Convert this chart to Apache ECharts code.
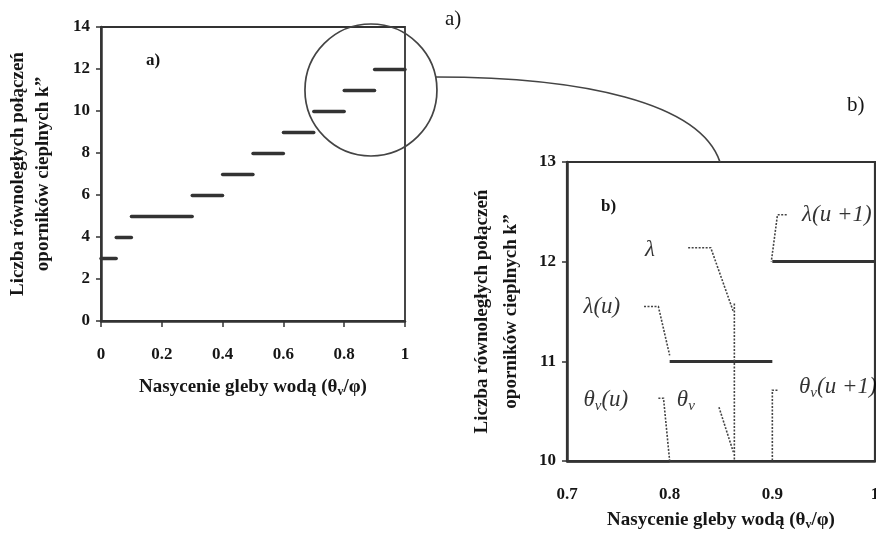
<!DOCTYPE html>
<html><head><meta charset="utf-8">
<script src="https://cdn.jsdelivr.net/npm/echarts@6/dist/echarts.min.js"></script>
<style>html,body{margin:0;padding:0;background:#fff}#c{width:876px;height:545px}</style>
</head><body><div id="c"></div>
<script>
// ---- data ----
const stepStart = [0, 0.05, 0.10, 0.30, 0.40, 0.50, 0.60, 0.70, 0.80, 0.90];
const stepEnd   = [0.05, 0.10, 0.30, 0.40, 0.50, 0.60, 0.70, 0.80, 0.90, 1.00];
const stepK     = [3, 4, 5, 6, 7, 8, 9, 10, 11, 12];
const axisA = {xMin: 0, xMax: 1, xStep: 0.2, yMin: 0, yMax: 14, yStep: 2};
const axisB = {xMin: 0.7, xMax: 1, xStep: 0.1, yMin: 10, yMax: 13, yStep: 1};
// leader lines in panel b (data coordinates)
const leaders = [
  [[0.914, 12.47], [0.905, 12.47], [0.899, 12.0]],
  [[0.818, 12.14], [0.840, 12.14], [0.862, 11.5]],
  [[0.863, 11.58], [0.863, 10.0]],
  [[0.775, 11.55], [0.789, 11.55], [0.800, 11.06]],
  [[0.789, 10.63], [0.794, 10.63], [0.800, 10.0]],
  [[0.848, 10.54], [0.862, 10.09]],
  [[0.905, 10.71], [0.900, 10.71], [0.900, 10.0]]
];
const noteX = [0.929, 0.776, 0.716, 0.716, 0.807, 0.926];
const noteY = [12.47, 12.12, 11.55, 10.61, 10.61, 10.74];
const noteText = ['{i|λ(u +1)}', '{i|λ}', '{i|λ(u)}', '{i|θ}{s|v}{i|(u)}', '{i|θ}{s|v}', '{i|θ}{s|v}{i|(u +1)}'];
const zoomCenter = [0.888, 11.0];

const FONT = 'Liberation Serif';
const INK = '#333';
const TXT = '#161616';

const chart = echarts.init(document.getElementById('c'), null, {renderer: 'canvas'});

function stepLines(){
  return stepK.map((k, i) => ({coords: [[stepStart[i], k], [stepEnd[i], k]]}));
}
const titleRich = {
  n: {fontFamily: FONT, fontWeight: 'bold', fontSize: 19, color: TXT},
  s: {fontFamily: FONT, fontWeight: 'bold', fontSize: 12, color: TXT, padding: [9, 0, 0, 0]}
};
const xName = '{n|Nasycenie gleby wodą (θ}{s|v}{n|/φ)}';
const yName = 'Liczba równoległych połączeń\noporników cieplnych k”';

function xAxisCfg(idx, a, gap, showTick){
  return {
    type: 'value', gridIndex: idx, min: a.xMin, max: a.xMax, interval: a.xStep,
    splitLine: {show: false},
    axisLine: {lineStyle: {color: INK, width: 2.5}},
    axisTick: {show: showTick, length: 6, lineStyle: {color: INK, width: 1.5}},
    axisLabel: {margin: 25, fontFamily: FONT, fontWeight: 'bold', fontSize: 17, color: TXT,
      formatter: v => String(Math.round(v * 10) / 10)},
    name: xName, nameLocation: 'middle', nameGap: gap,
    nameTextStyle: {rich: titleRich}
  };
}
function yAxisCfg(idx, a, gap, lh){
  return {
    type: 'value', gridIndex: idx, min: a.yMin, max: a.yMax, interval: a.yStep,
    splitLine: {show: false},
    axisLine: {lineStyle: {color: INK, width: 2.5}},
    axisTick: {length: 5, lineStyle: {color: INK, width: 1.5}},
    axisLabel: {margin: 11, fontFamily: FONT, fontWeight: 'bold', fontSize: 17, color: TXT},
    name: yName, nameLocation: 'middle', nameGap: gap,
    nameTextStyle: {fontFamily: FONT, fontWeight: 'bold', fontSize: 19, color: TXT, lineHeight: lh}
  };
}

const option = {
  backgroundColor: '#fff',
  animation: false,
  grid: [
    {left: 101, top: 27, width: 304, height: 294, show: true, borderColor: INK, borderWidth: 1.8,
     containLabel: false, outerBoundsMode: 'none'},
    {left: 567, top: 162, width: 308, height: 299, show: true, borderColor: INK, borderWidth: 2.2,
     containLabel: false, outerBoundsMode: 'none'}
  ],
  xAxis: [xAxisCfg(0, axisA, 56, true), xAxisCfg(1, axisB, 49, false)],
  yAxis: [yAxisCfg(0, axisA, 45, 25), yAxisCfg(1, axisB, 41, 29)],
  series: [
    {type: 'lines', coordinateSystem: 'cartesian2d', xAxisIndex: 0, yAxisIndex: 0, polyline: false,
     lineStyle: {color: '#333', width: 3.4, opacity: 1, cap: 'round'}, data: stepLines(), silent: true},
    {type: 'lines', coordinateSystem: 'cartesian2d', xAxisIndex: 1, yAxisIndex: 1, polyline: false, clip: true,
     lineStyle: {color: '#333', width: 3, opacity: 1}, data: stepLines(), silent: true},
    {type: 'lines', coordinateSystem: 'cartesian2d', xAxisIndex: 1, yAxisIndex: 1, polyline: true,
     lineStyle: {color: '#444', width: 1.6, type: [2, 1.5], opacity: 1},
     data: leaders.map(c => ({coords: c})), silent: true},
    {type: 'scatter', xAxisIndex: 1, yAxisIndex: 1, symbolSize: 0, silent: true,
     data: noteX.map((x, i) => [x, noteY[i]]),
     label: {show: true, position: 'right', distance: 0, color: '#000',
       formatter: p => noteText[p.dataIndex],
       rich: {
         i: {fontFamily: FONT, fontStyle: 'italic', fontSize: 23, color: '#000'},
         s: {fontFamily: FONT, fontStyle: 'italic', fontSize: 15, color: '#000', padding: [12, 0, 0, 0]}
       }}}
  ]
};
chart.setOption(option);

// annotations: magnifier circle, connector, panel tags
const c = chart.convertToPixel({gridIndex: 0}, zoomCenter);
const r = 66;
const start = [c[0] + 65, c[1] - 13];
const end = chart.convertToPixel({gridIndex: 1}, [0.849, 13]);
chart.setOption({
  graphic: [
    {type: 'circle', shape: {cx: c[0], cy: c[1], r: r}, style: {fill: 'none', stroke: '#444', lineWidth: 1.7}, z: 10},
    {type: 'bezierCurve', shape: {x1: start[0], y1: start[1], cpx1: start[0] + 145, cpy1: start[1],
      cpx2: end[0] - 20, cpy2: end[1] - 60, x2: end[0], y2: end[1]},
      style: {fill: 'none', stroke: '#444', lineWidth: 1.7}, z: 10},
    {type: 'text', left: 146, top: 52, style: {text: 'a)', fontFamily: FONT, fontWeight: 'bold', fontSize: 17, fill: TXT}},
    {type: 'text', left: 445, top: 9, style: {text: 'a)', fontFamily: FONT, fontSize: 21, fill: TXT}},
    {type: 'text', left: 847, top: 95, style: {text: 'b)', fontFamily: FONT, fontSize: 21, fill: TXT}},
    {type: 'text', left: 601, top: 198, style: {text: 'b)', fontFamily: FONT, fontWeight: 'bold', fontSize: 17, fill: TXT}}
  ]
});
</script></body></html>
